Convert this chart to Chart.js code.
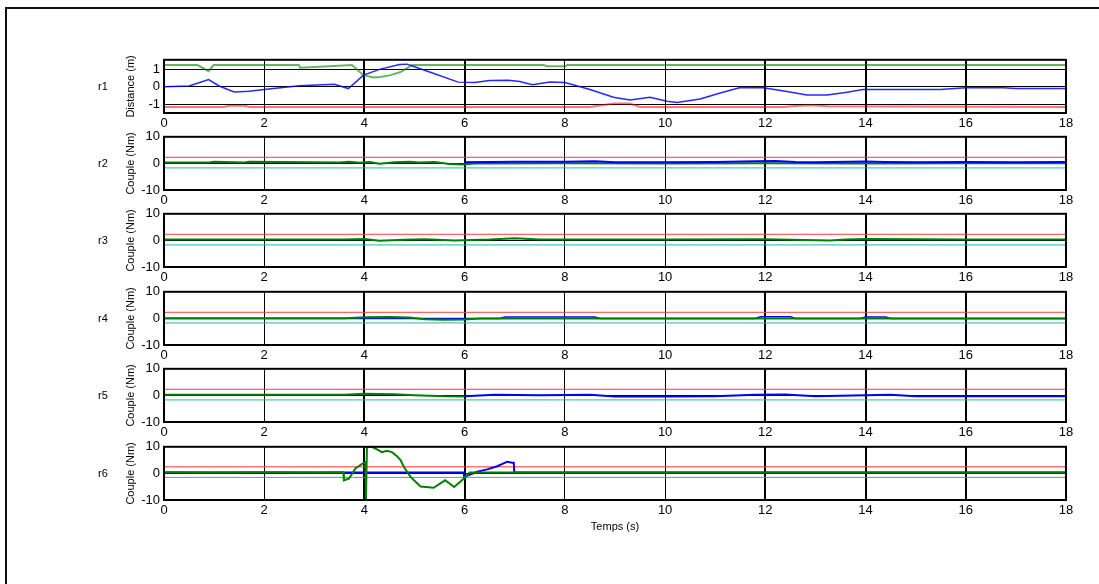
<!DOCTYPE html>
<html>
<head>
<meta charset="utf-8">
<script src="https://cdn.jsdelivr.net/npm/chart.js@4.4.1/dist/chart.umd.min.js"></script>
<style>
  html, body { margin: 0; padding: 0; background: #fff; overflow: hidden; }
  body { width: 1099px; height: 584px; position: relative; font-family: "Liberation Sans", Arial, sans-serif; }
  #frame { position: absolute; left: 5px; top: 7px; width: 1200px; height: 700px;
           border-left: 2px solid #111; border-top: 2px solid #111; }
  canvas { position: absolute; left: 0; }
  .row { position: absolute; left: 98px; font-size: 11px; line-height: 12px; color: #000; }
</style>
</head>
<body>
<div id="frame"></div>
<script>
// axes
const xTicks = [0, 2, 4, 6, 8, 10, 12, 14, 16, 18];
const distTicks = [-1, 0, 1];
const coupleTicks = [-10, 0, 10];
const rowNames = ['r1', 'r2', 'r3', 'r4', 'r5', 'r6'];
const yTitles = ['Distance (m)', 'Couple (Nm)', 'Couple (Nm)', 'Couple (Nm)', 'Couple (Nm)', 'Couple (Nm)'];
const xTitle = 'Temps (s)';

// r1 : distances
const r1BlueT = [0, 0.5, 0.89, 1.1, 1.4, 1.7, 2.0, 2.7, 3.4, 3.68, 3.98, 4.3, 4.7, 4.85, 5.0, 5.4, 5.87, 6.2, 6.5, 6.87, 7.1, 7.35, 7.7, 8.0, 8.5, 8.97, 9.3, 9.7, 10.04, 10.24, 10.7, 11.1, 11.5, 11.96, 12.4, 12.83, 13.23, 13.6, 13.95, 14.5, 15.49, 16.0, 16.75, 17.0, 18];
const r1BlueY = [0, 0.05, 0.42, 0.05, -0.29, -0.25, -0.15, 0.06, 0.15, -0.1, 0.67, 1.0, 1.28, 1.3, 1.15, 0.75, 0.27, 0.25, 0.36, 0.38, 0.3, 0.12, 0.28, 0.25, -0.15, -0.6, -0.76, -0.6, -0.82, -0.9, -0.7, -0.35, -0.04, -0.05, -0.25, -0.47, -0.47, -0.32, -0.15, -0.15, -0.15, -0.05, -0.05, -0.1, -0.1];
const r1GreenT = [0, 0.67, 0.89, 0.99, 2.69, 2.72, 3.39, 3.75, 3.98, 4.18, 4.32, 4.52, 4.72, 4.95, 7.57, 7.65, 8.0, 8.05, 18];
const r1GreenY = [1.25, 1.25, 0.9, 1.25, 1.25, 1.1, 1.2, 1.25, 0.67, 0.54, 0.57, 0.67, 0.85, 1.25, 1.25, 1.18, 1.18, 1.25, 1.25];
const r1RedT = [0, 1.2, 1.3, 1.6, 1.7, 8.5, 8.97, 9.3, 9.5, 12.36, 12.6, 12.9, 13.25, 18];
const r1RedY = [-1.15, -1.15, -1.08, -1.08, -1.15, -1.15, -0.96, -0.96, -1.15, -1.15, -1.1, -1.05, -1.12, -1.15];

// r2
const r2GreenT = [0, 0.9, 1.0, 1.6, 1.7, 3.5, 3.7, 3.9, 4.1, 4.3, 4.6, 4.9, 5.1, 5.4, 5.7, 5.95, 6.2, 8, 10, 12, 14, 16, 18];
const r2GreenY = [0.3, 0.3, 0.6, 0.3, 0.6, 0.3, 0.6, 0.2, 0.5, -0.1, 0.4, 0.6, 0.3, 0.5, -0.2, -0.4, 0.0, 0.1, 0.0, 0.1, 0.0, 0.1, 0.1];
const r2BlueT = [6, 6.5, 7, 8, 8.6, 9, 10, 11, 11.8, 12.2, 12.6, 13, 14, 14.4, 15, 16, 17, 18];
const r2BlueY = [0.4, 0.5, 0.6, 0.6, 0.8, 0.4, 0.4, 0.5, 0.8, 0.9, 0.5, 0.4, 0.7, 0.5, 0.4, 0.5, 0.4, 0.5];

// r3
const r3GreenT = [0, 2, 3.6, 4.0, 4.3, 4.8, 5.2, 5.8, 6.5, 7.0, 7.5, 10, 12, 13.3, 13.6, 14, 16, 18];
const r3GreenY = [0.3, 0.3, 0.3, 0.5, -0.1, 0.2, 0.4, 0.0, 0.3, 0.8, 0.3, 0.3, 0.4, 0.0, 0.3, 0.5, 0.3, 0.3];

// r4
const r4GreenT = [0, 3.6, 4.0, 4.5, 4.9, 5.2, 5.6, 6.0, 6.3, 8, 10, 12, 14, 16, 18];
const r4GreenY = [0.1, 0.1, 0.4, 0.5, 0.3, -0.3, -0.5, -0.4, 0.0, 0.0, 0.0, 0.0, 0.0, 0.0, 0.0];
const r4BlueT = [0, 6.7, 6.8, 8.6, 8.7, 11.8, 11.9, 12.5, 12.6, 13.9, 14.0, 14.4, 14.5, 18];
const r4BlueY = [0, 0, 0.5, 0.5, 0, 0, 0.6, 0.6, 0, 0, 0.5, 0.5, 0, 0];

// r5
const r5GreenT = [0, 3.6, 4.0, 4.6, 5.0, 5.6, 6.0, 18];
const r5GreenY = [0.2, 0.2, 0.6, 0.4, 0.1, -0.3, -0.4, -0.3];
const r5BlueT = [6, 6.6, 7.5, 8.5, 9, 10, 11, 11.8, 12.4, 13, 14, 14.5, 15, 16, 17, 18];
const r5BlueY = [-0.3, 0.2, 0.1, 0.2, -0.4, -0.4, -0.3, 0.2, 0.3, -0.3, 0.1, 0.2, -0.3, -0.3, -0.3, -0.3];

// r6
const r6GreenT = [0, 1, 2, 3, 3.58, 3.59, 3.69, 3.82, 3.99, 4.02, 4.03, 4.05, 4.15, 4.25, 4.35, 4.45, 4.55, 4.65, 4.72, 4.8, 4.92, 5.12, 5.38, 5.61, 5.79, 5.98, 6.1, 7, 8, 10, 12, 14, 16, 18];
const r6GreenY = [0.4, 0.3, 0.4, 0.3, 0.4, -2.6, -2.0, 1.9, 4.0, 4.2, -10, 9.8, 10, 9, 8, 8.5, 8, 6.5, 5, 2, -1.3, -4.9, -5.4, -2.6, -5.1, -2.0, 0.3, 0.3, 0.3, 0.3, 0.3, 0.3, 0.3, 0.3];
const r6BlueT = [0, 5.98, 5.99, 6.25, 6.45, 6.65, 6.85, 6.95, 6.98, 6.99, 18];
const r6BlueY = [0.3, 0.3, -1.3, 0.6, 1.5, 2.7, 4.4, 4.0, 4.0, 0.3, 0.3];

// limits (red / cyan)
const limT = [0, 18];
const redLimY = [2.3, 2.3];
const cyanLimY = [-1.7, -1.7];
const r6RedLimY = [2.5, 2.5];
const r6CyanLimY = [-1.5, -1.5];

function pts(ts, ys) {
  return ts.map((t, i) => ({ x: t, y: ys[i] }));
}

function line(ts, ys, color, width, order) {
  return {
    data: pts(ts, ys),
    borderColor: color,
    borderWidth: width,
    pointRadius: 0,
    tension: 0,
    fill: false,
    order: order,
  };
}

const boxFrame = {
  id: 'boxFrame',
  afterDatasetsDraw(chart) {
    const a = chart.chartArea;
    const ctx = chart.ctx;
    ctx.save();
    ctx.strokeStyle = '#000';
    ctx.lineWidth = 2;
    ctx.strokeRect(a.left, a.top, a.right - a.left, a.bottom - a.top);
    ctx.restore();
  },
};

const plotTops = [60, 137, 214, 292, 369, 447];
const plotH = 53;
const tickFont = { family: 'Liberation Sans, Arial, sans-serif', size: 13 };
const titleFont = { family: 'Liberation Sans, Arial, sans-serif', size: 11 };
const thickX = [4, 6, 12, 14, 16];

function panel(i, datasets, yMin, yMax, yTicks) {
  const last = i === 5;
  const xh = last ? 34 : 22;
  const cv = document.createElement('canvas');
  cv.width = 1099;
  cv.height = 100;
  cv.style.width = '1099px';
  cv.style.height = '100px';
  document.body.appendChild(cv);

  const lab = document.createElement('div');
  lab.className = 'row';
  lab.textContent = rowNames[i];
  lab.style.top = (plotTops[i] + plotH / 2 - 7) + 'px';
  document.body.appendChild(lab);

  const chart = new Chart(cv, {
    type: 'line',
    data: { datasets: datasets },
    plugins: [boxFrame],
    options: {
      responsive: false,
      maintainAspectRatio: false,
      animation: false,
      events: [],
      layout: { padding: { left: 120, right: 33, top: 0, bottom: 0 } },
      plugins: { legend: { display: false }, tooltip: { enabled: false } },
      scales: {
        x: {
          type: 'linear',
          min: 0,
          max: 18,
          afterBuildTicks: (s) => { s.ticks = xTicks.map((v) => ({ value: v })); },
          afterFit: (s) => { s.height = xh; },
          ticks: { font: tickFont, color: '#000', padding: 3, maxRotation: 0, autoSkip: false },
          grid: {
            color: '#000',
            lineWidth: (c) => (thickX.includes(c.tick && c.tick.value) ? 2 : 1),
            drawTicks: false,
          },
          border: { display: false },
          title: { display: last, text: xTitle, color: '#000', font: titleFont, padding: 0 },
        },
        y: {
          type: 'linear',
          min: yMin,
          max: yMax,
          afterBuildTicks: (s) => { s.ticks = yTicks.map((v) => ({ value: v })); },
          afterFit: (s) => { s.width = 44; },
          ticks: { font: tickFont, color: '#000', padding: 4 },
          grid: { color: '#000', lineWidth: 1, drawTicks: false },
          border: { display: false },
          title: { display: true, text: yTitles[i], color: '#000', font: titleFont, padding: { top: 4, bottom: 0 } },
        },
      },
    },
  });

  // place the plot box exactly: its top at plotTops[i], height plotH
  const t = chart.chartArea.top;
  const h = Math.round(t + plotH + xh);
  chart.resize(1099, h);
  cv.style.top = (plotTops[i] - chart.chartArea.top) + 'px';
}

// r1
panel(0, [
  line(r1BlueT, r1BlueY, 'rgba(0,0,255,0.85)', 1.5, 1),
  line(r1GreenT, r1GreenY, 'rgba(0,128,0,0.6)', 2, 2),
  line(r1RedT, r1RedY, 'rgba(255,0,0,0.55)', 2, 3),
], -1.5, 1.55, distTicks);

// r2
panel(1, [
  line(r2BlueT, r2BlueY, '#0000ff', 2, 1),
  line(r2GreenT, r2GreenY, '#008000', 2, 2),
  line(limT, redLimY, '#ff3b3b', 1, 3),
  line(limT, cyanLimY, '#22b5b5', 1, 4),
], -10, 10, coupleTicks);

// r3
panel(2, [
  line(r3GreenT, r3GreenY, '#008000', 2, 1),
  line(limT, redLimY, '#ff3b3b', 1, 3),
  line(limT, cyanLimY, '#22b5b5', 1, 4),
], -10, 10, coupleTicks);

// r4
panel(3, [
  line(r4GreenT, r4GreenY, '#008000', 2, 1),
  line(r4BlueT, r4BlueY, '#0000ff', 1.5, 2),
  line(limT, redLimY, '#ff3b3b', 1, 3),
  line(limT, cyanLimY, '#22b5b5', 1, 4),
], -10, 10, coupleTicks);

// r5
panel(4, [
  line(r5BlueT, r5BlueY, '#0000ff', 2, 1),
  line(r5GreenT.slice(0, 7), r5GreenY.slice(0, 7), '#008000', 2, 2),
  line(limT, redLimY, '#ff3b3b', 1, 3),
  line(limT, cyanLimY, '#22b5b5', 1, 4),
], -10, 10, coupleTicks);

// r6
panel(5, [
  line(r6GreenT, r6GreenY, '#008000', 2, 1),
  line(r6BlueT, r6BlueY, '#0000ff', 2, 2),
  line(limT, r6RedLimY, 'rgba(255,60,60,0.7)', 1.5, 3),
  line(limT, r6CyanLimY, '#22b5b5', 1, 4),
], -10, 10, coupleTicks);
</script>
</body>
</html>
